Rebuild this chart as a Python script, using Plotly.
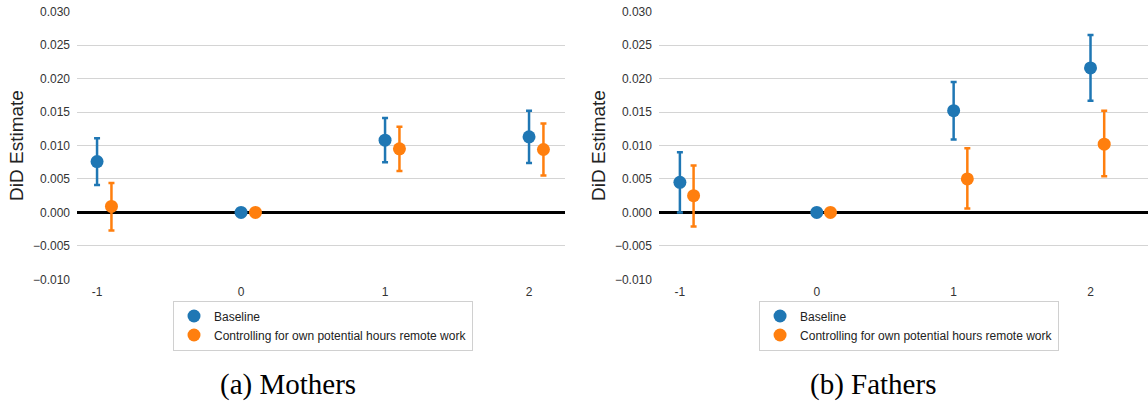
import plotly.graph_objects as go

periods = [-1, 0, 1, 2]
tick_labels = ["-1", "0", "1", "2"]
series_names = ["Baseline", "Controlling for own potential hours remote work"]
colors = ["#1f77b4", "#ff7f0e"]
offsets = [0.0, 0.1]

# Mothers
m_base = [0.0076, 0.0, 0.0108, 0.0113]
m_base_lo = [0.0041, 0.0, 0.0075, 0.0074]
m_base_hi = [0.0111, 0.0, 0.0141, 0.0152]
m_ctrl = [0.0009, 0.0, 0.0095, 0.0094]
m_ctrl_lo = [-0.0027, 0.0, 0.0062, 0.0055]
m_ctrl_hi = [0.0044, 0.0, 0.0128, 0.0133]

# Fathers
f_base = [0.0045, 0.0, 0.0152, 0.0216]
f_base_lo = [0.0000, 0.0, 0.0109, 0.0167]
f_base_hi = [0.0090, 0.0, 0.0195, 0.0265]
f_ctrl = [0.0025, 0.0, 0.0050, 0.0102]
f_ctrl_lo = [-0.0021, 0.0, 0.0006, 0.0054]
f_ctrl_hi = [0.0070, 0.0, 0.0096, 0.0152]

y_ticks = [-0.010, -0.005, 0.0, 0.005, 0.010, 0.015, 0.020, 0.025, 0.030]

panels = [
    dict(name="Mothers", caption="(a) Mothers",
         data=[(m_base, m_base_lo, m_base_hi), (m_ctrl, m_ctrl_lo, m_ctrl_hi)],
         xa="x", ya="y", legend="legend"),
    dict(name="Fathers", caption="(b) Fathers",
         data=[(f_base, f_base_lo, f_base_hi), (f_ctrl, f_ctrl_lo, f_ctrl_hi)],
         xa="x2", ya="y2", legend="legend2"),
]

fig = go.Figure()
for p in panels:
    for s, (vals, lo, hi) in enumerate(p["data"]):
        xs = [x + offsets[s] for x in periods]
        plus = [h - v for v, h in zip(vals, hi)]
        minus = [v - l for v, l in zip(vals, lo)]
        fig.add_trace(go.Scatter(
            x=xs, y=vals, mode="markers", name=series_names[s],
            marker=dict(color=colors[s], size=13),
            error_y=dict(type="data", symmetric=False, array=plus, arrayminus=minus,
                         color=colors[s], thickness=2.5, width=3),
            xaxis=p["xa"], yaxis=p["ya"], legend=p["legend"],
        ))

axis_font = dict(family="Liberation Sans, Arial, sans-serif", size=12, color="#333333")
xcommon = dict(tickmode="array", tickvals=periods, ticktext=tick_labels,
               showgrid=False, zeroline=False, showline=False, tickfont=axis_font,
               ticklabelstandoff=3, automargin=False)
ycommon = dict(tickmode="array", tickvals=y_ticks, tickformat=".3f",
               range=[-0.0101, 0.0301], showgrid=True, gridcolor="#d4d4d4", gridwidth=1,
               zeroline=True, zerolinecolor="black", zerolinewidth=3,
               showline=False, tickfont=axis_font, ticklabelstandoff=6, automargin=False,
               title=dict(text="DiD Estimate",
                          font=dict(family="Liberation Sans, Arial, sans-serif", size=19, color="#222222"),
                          standoff=4))

legend_font = dict(family="Liberation Sans, Arial, sans-serif", size=12, color="#222222")

fig.update_layout(
    width=1148, height=403,
    margin=dict(l=0, r=0, t=0, b=0, autoexpand=False),
    paper_bgcolor="white", plot_bgcolor="white",
    xaxis=dict(domain=[0.0671, 0.4922], range=[-1.139, 2.25], anchor="y", **xcommon),
    yaxis=dict(domain=[0.3052, 0.9727], anchor="x", **ycommon),
    xaxis2=dict(domain=[0.574, 1.0], range=[-1.153, 2.42], anchor="y2", **xcommon),
    yaxis2=dict(domain=[0.3052, 0.9727], anchor="x2", **ycommon),
    legend=dict(x=0.1507, y=0.1923, xanchor="left", yanchor="middle",
                bordercolor="#d0d0d0", borderwidth=1, bgcolor="white", font=legend_font),
    legend2=dict(x=0.6612, y=0.1923, xanchor="left", yanchor="middle",
                 bordercolor="#d0d0d0", borderwidth=1, bgcolor="white", font=legend_font),
    showlegend=True,
)

for cx, p in zip([0.2505, 0.7605], panels):
    fig.add_annotation(x=cx, y=0.0447, xref="paper", yref="paper",
                       text=p["caption"], showarrow=False,
                       font=dict(family="Liberation Serif, Times New Roman, serif", size=29, color="black"),
                       xanchor="center", yanchor="middle")

fig.write_html("out.html", config={"displayModeBar": False},
               post_script="document.body.style.margin='0';document.body.style.overflow='hidden';")
